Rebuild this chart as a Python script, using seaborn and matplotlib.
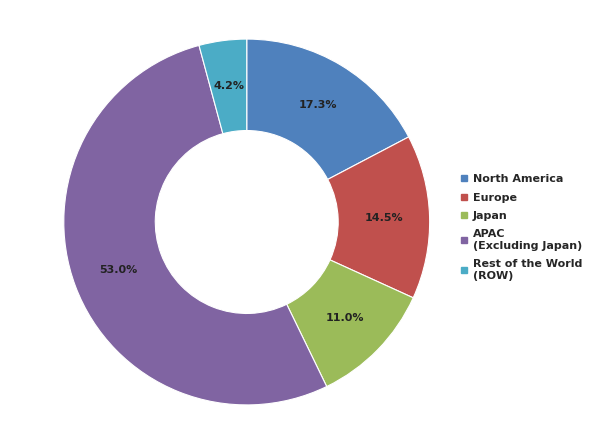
import matplotlib
matplotlib.use("Agg")
import matplotlib.pyplot as plt
from matplotlib.lines import Line2D
import seaborn as sns

sns.set_style("white")
plt.rcParams["font.family"] = ["DejaVu Sans"]

regions = ["North America", "Europe", "Japan", "APAC\n(Excluding Japan)", "Rest of the World\n(ROW)"]
shares = [17.3, 14.5, 11.0, 53.0, 4.2]
colors = ["#4F81BD", "#C0504D", "#9BBB59", "#8064A2", "#4BACC6"]

fig = plt.figure(figsize=(6.13, 4.44), dpi=100)
ax = fig.add_axes([0.104, 0.088, 0.597, 0.824])
ax.pie(shares, colors=colors, startangle=90, counterclock=False,
       radius=1.0, wedgeprops=dict(width=0.5, edgecolor="white", linewidth=0.8),
       autopct="%.1f%%", pctdistance=0.75,
       textprops=dict(fontsize=8, fontweight="bold", color="#222222"))
ax.set_xlim(-1, 1)
ax.set_ylim(-1, 1)
ax.set_aspect("equal")

handles = [Line2D([], [], marker="s", linestyle="", color=c, markersize=4) for c in colors]
fig.legend(handles, regions, loc="upper left", bbox_to_anchor=(0.735, 0.63),
           frameon=False, handlelength=0.6, handletextpad=0.5, labelspacing=0.75,
           prop=dict(size=8, weight="bold"))

fig.savefig("out.png", dpi=100)
